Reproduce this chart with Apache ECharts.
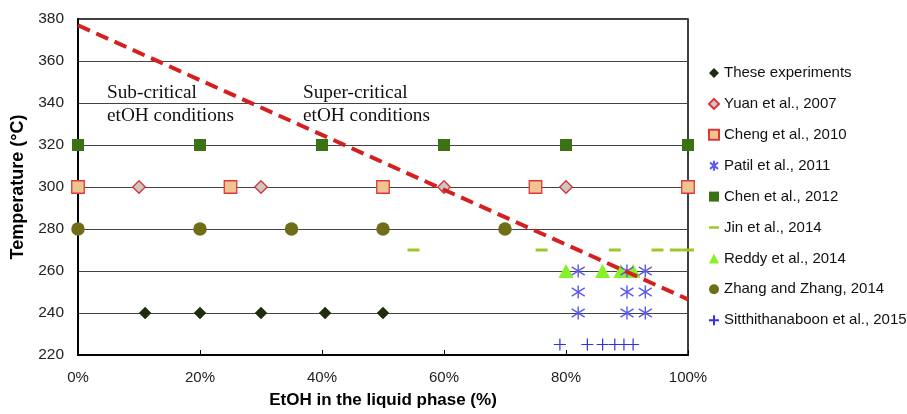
<!DOCTYPE html>
<html><head><meta charset="utf-8">
<script src="https://cdn.jsdelivr.net/npm/echarts@6/dist/echarts.min.js"></script>
<style>html,body{margin:0;padding:0;background:#fff}#c{width:907px;height:414px}</style>
</head><body><div id="c"></div>
<script>
var theseExp = [[11,240],[20,240],[30,240],[40.5,240],[50,240]];
var yuan = [[10,300],[30,300],[60,300],[80,300]];
var cheng = [[0,300],[25,300],[50,300],[75,300],[100,300]];
var patil = [[82,260],[82,250],[82,240],[90,260],[90,250],[90,240],[93,260],[93,250],[93,240]];
var chen = [[0,320],[20,320],[40,320],[60,320],[80,320],[100,320]];
var jin = [[55,270],[76,270],[88,270],[95,270],[98,270],[100,270]];
var reddy = [[80,260],[86,260],[89,260],[91,260]];
var zhang = [[0,280],[20,280],[35,280],[50,280],[70,280]];
var sitt = [[79,225],[83.5,225],[86,225],[88,225],[89.5,225],[91,225]];
var critLine = [[0,377],[100,246.5]];

var asterisk = 'path://M5,0 L5,10 M1,1.8 L9,8.2 M1,8.2 L9,1.8';
var plus = 'path://M5,0 L5,10 M0,5 L10,5';
var dash = 'path://M0,4 L10,4 L10,6.5 L0,6.5 Z';

var chart = echarts.init(document.getElementById('c'));
var font = 'Liberation Sans, Arial, sans-serif';
var serif = 'Liberation Serif, Times New Roman, serif';
chart.setOption({
  animation:false,
  grid:{left:78,right:219,top:19,bottom:59,outerBoundsMode:'none',containLabel:false,show:true,borderColor:'#000',borderWidth:1.5,backgroundColor:'transparent'},
  xAxis:{type:'value',min:0,max:100,interval:20,
    axisLine:{show:true,onZero:false,lineStyle:{color:'#000',width:2}},
    axisTick:{show:true,inside:true,length:5,lineStyle:{color:'#000'}},
    axisLabel:{formatter:'{value}%',fontSize:15,color:'#222',fontFamily:font,margin:15},
    splitLine:{show:false},
    name:'EtOH in the liquid phase (%)',nameLocation:'middle',nameGap:37,
    nameTextStyle:{fontSize:17,fontWeight:'bold',color:'#000',fontFamily:font}},
  yAxis:{type:'value',min:220,max:380,interval:20,
    axisLine:{show:true,lineStyle:{color:'#000',width:2}},
    axisTick:{show:false},
    axisLabel:{fontSize:15.5,color:'#222',fontFamily:font,margin:14},
    splitLine:{show:true,lineStyle:{color:'#444',width:1}},
    name:'Temperature (°C)',nameLocation:'middle',nameGap:51,
    nameTextStyle:{fontSize:18,fontWeight:'bold',color:'#000',fontFamily:font}},
  legend:{orient:'vertical',left:701.5,top:60.5,itemGap:15.9,itemWidth:10,itemHeight:10,
    textStyle:{fontSize:15,color:'#111',fontFamily:font},
    data:[
      {name:'These experiments',icon:'diamond'},
      {name:'Yuan et al., 2007',icon:'diamond'},
      {name:'Cheng et al., 2010',icon:'rect'},
      {name:'Patil et al., 2011',icon:asterisk},
      {name:'Chen et al., 2012',icon:'rect'},
      {name:'Jin et al., 2014',icon:dash},
      {name:'Reddy et al., 2014',icon:'triangle'},
      {name:'Zhang and Zhang, 2014',icon:'circle'},
      {name:'Sitthithanaboon et al., 2015',icon:plus}
    ]},
  graphic:[
    {type:'text',left:107,top:81,style:{text:'Sub-critical\netOH conditions',fontSize:19.3,fontFamily:serif,fill:'#111',lineHeight:23}},
    {type:'text',left:303,top:81,style:{text:'Super-critical\netOH conditions',fontSize:19.3,fontFamily:serif,fill:'#111',lineHeight:23}}
  ],
  series:[
    {name:'These experiments',type:'scatter',data:theseExp,symbol:'diamond',symbolSize:12.5,itemStyle:{color:'#1c2e0c',opacity:1},z:5},
    {name:'Yuan et al., 2007',type:'scatter',data:yuan,symbol:'diamond',symbolSize:12.5,itemStyle:{color:'#c8c8c8',borderColor:'#e03030',borderWidth:1.3,opacity:1},z:5},
    {name:'Cheng et al., 2010',type:'scatter',data:cheng,symbol:'rect',symbolSize:12.5,itemStyle:{color:'#efc490',borderColor:'#e03838',borderWidth:1.3,opacity:1},z:5},
    {name:'Patil et al., 2011',type:'scatter',data:patil,symbol:asterisk,symbolSize:13,itemStyle:{color:'none',borderColor:'#5a5aef',borderWidth:1.4,opacity:1},z:6},
    {name:'Chen et al., 2012',type:'scatter',data:chen,symbol:'rect',symbolSize:12,itemStyle:{color:'#3b7314',opacity:1},z:5},
    {name:'Jin et al., 2014',type:'scatter',data:jin,symbol:'rect',symbolSize:[12,3],itemStyle:{color:'#9ec72a',opacity:1},z:5},
    {name:'Reddy et al., 2014',type:'scatter',data:reddy,symbol:'triangle',symbolSize:[15,14],itemStyle:{color:'#88f028',opacity:1},z:5},
    {name:'Zhang and Zhang, 2014',type:'scatter',data:zhang,symbol:'circle',symbolSize:13.5,itemStyle:{color:'#6e6e18',opacity:1},z:5},
    {name:'Sitthithanaboon et al., 2015',type:'scatter',data:sitt,symbol:plus,symbolSize:12,itemStyle:{color:'none',borderColor:'#3030e8',borderWidth:1.2,opacity:1},z:6},
    {name:'crit',type:'line',data:critLine,symbol:'none',silent:true,lineStyle:{color:'#d42020',width:4,type:[13,7]},z:7}
  ]
});
</script></body></html>
